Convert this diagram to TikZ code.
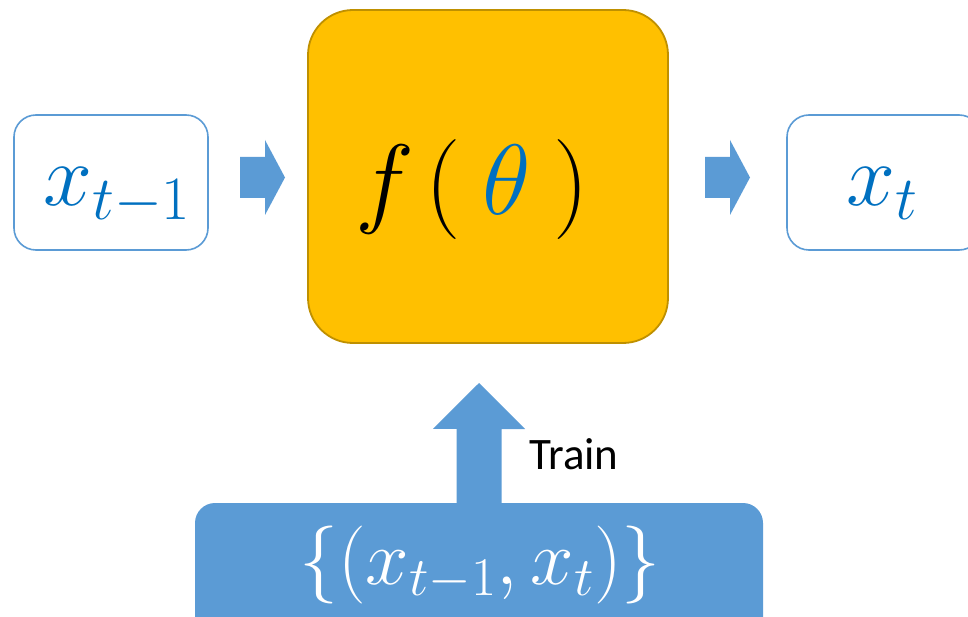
\documentclass[tikz,border=0pt]{standalone}
\usepackage{fix-cm}
\usepackage{fontspec}
\newfontfamily\trainfont{Carlito}
\usetikzlibrary{calc}
\definecolor{boxblue}{HTML}{5B9BD5}
\definecolor{mathblue}{HTML}{0070C0}
\definecolor{gold}{HTML}{FFC000}
\definecolor{golddark}{HTML}{BF9000}
\begin{document}
\begin{tikzpicture}[x=1pt,y=-1pt,
  inbox/.style={draw=boxblue, line width=1.6pt, fill=white, rounded corners=22pt,
    minimum width=194pt, minimum height=135pt, inner sep=0pt},
  modelbox/.style={draw=golddark, fill=gold, line width=1.8pt, rounded corners=45pt,
    minimum width=360pt, minimum height=333pt, inner sep=0pt},
  databox/.style={fill=boxblue, rounded corners=20pt,
    minimum width=568pt, minimum height=140pt, inner sep=0pt},
  mathlabel/.style={anchor=base, inner sep=0pt},
  pics/rarrow/.style={code={
    \fill[boxblue] (-22.5,-20.5) -- (2.5,-20.5) -- (2.5,-37.5) -- (22.5,0)
      -- (2.5,37.5) -- (2.5,20.5) -- (-22.5,20.5) -- cycle;}}
]
\useasboundingbox (0,0) rectangle (968,617);

% boxes
\node[inbox] (prev) at (111,182.5) {};
\node[inbox] (next) at (884,182.5) {};
\node[modelbox] (model) at (488,176.5) {};
\node[databox] (data) at (479,573) {};

% block arrows between the boxes
\coordinate (a1) at (262.5,177.5);
\coordinate (a2) at (727.5,177.5);
\pic at (a1) {rarrow};
\pic at (a2) {rarrow};

% training arrow from the data box up to the model
\coordinate (up) at (479,383);
\fill[boxblue] (up) -- ++(46,46) -- ++(-23.5,0) |- (data.north)
  -- ++(-22.5,0) -- ++(0,-74) -- ++(-23.5,0) -- cycle;

% labels
\node[mathlabel, text=mathblue] (prevlabel) at (117,206)
  {\fontsize{88}{96}\selectfont$x_{t-1}$};
\node[mathlabel, text=mathblue] (nextlabel) at (882,206)
  {\fontsize{88}{96}\selectfont$x_{t}$};
\node[mathlabel] (modellabel) at (472,215)
  {\fontsize{100}{110}\selectfont$f\mkern2mu(\mkern4mu{\color{mathblue}\theta}\mkern4mu)$};
\node[mathlabel, text=white] (datalabel) at (480,584)
  {\fontsize{78}{86}\selectfont$\{(x_{t-1},x_t)\}$};
\node[anchor=base west, inner sep=0pt] (train) at (529,469)
  {\trainfont\fontsize{45}{52}\selectfont Train};
\end{tikzpicture}
\end{document}
